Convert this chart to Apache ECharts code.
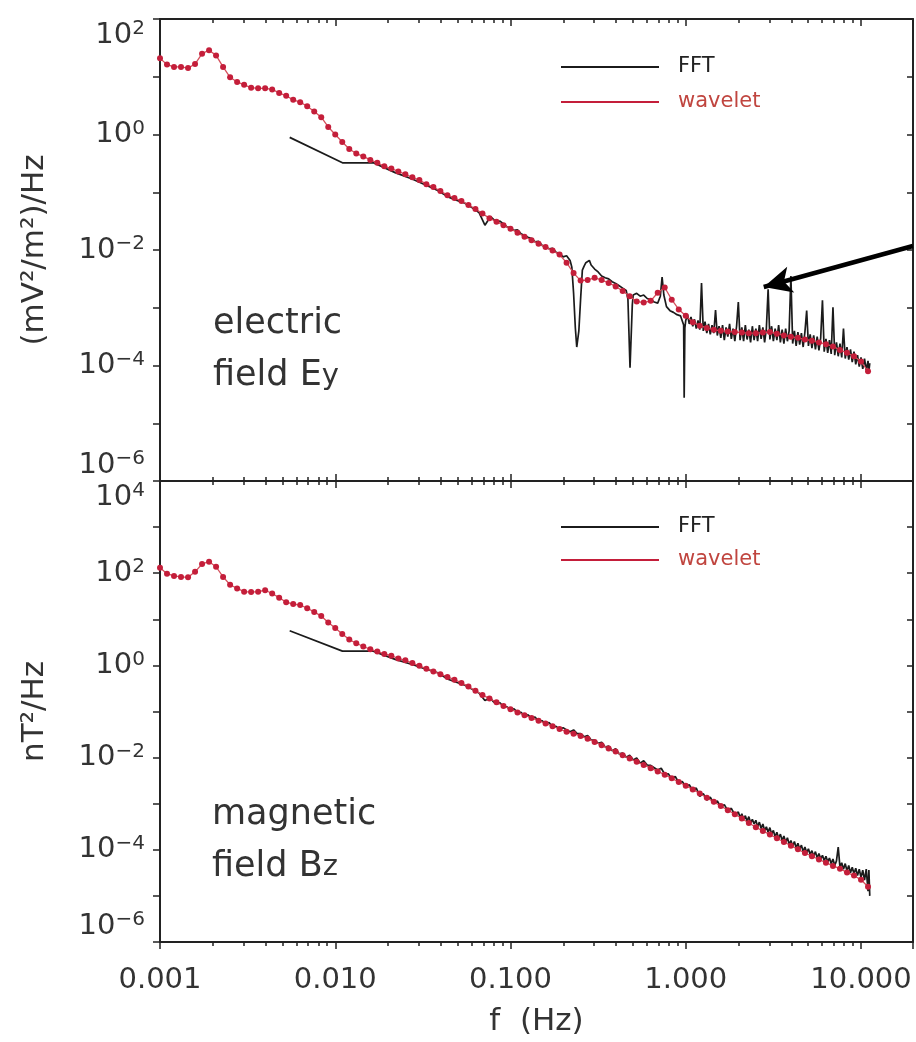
<!DOCTYPE html>
<html>
<head>
<meta charset="utf-8">
<title>FFT vs wavelet spectra</title>
<script src="https://cdn.jsdelivr.net/npm/echarts@6/dist/echarts.min.js"></script>
<style>
  html, body { margin: 0; padding: 0; background: #fff; }
  #chart { width: 916px; height: 1042px; }
</style>
</head>
<body>
<div id="chart"></div>
<script>
// all values are log10 (x = log10 f[Hz], y = log10 PSD)

// wavelet scales: one every 0.04 decade starting at 0.001 Hz
const waveStartLog = -3;
const waveStep = 0.04;

// electric field Ey, wavelet PSD
const waveTop = [
  1.32, 1.21, 1.17, 1.17, 1.15, 1.22, 1.40, 1.46, 1.37, 1.17,
  0.99, 0.91, 0.86, 0.81, 0.80, 0.80, 0.78, 0.72, 0.67, 0.60,
  0.56, 0.49, 0.40, 0.30, 0.13, 0.00, -0.13, -0.25, -0.33, -0.38,
  -0.44, -0.49, -0.55, -0.59, -0.64, -0.69, -0.74, -0.79, -0.86, -0.91,
  -0.98, -1.05, -1.10, -1.15, -1.22, -1.29, -1.37, -1.45, -1.51, -1.57,
  -1.63, -1.70, -1.77, -1.83, -1.89, -1.95, -2.01, -2.08, -2.22, -2.40,
  -2.53, -2.52, -2.48, -2.52, -2.57, -2.63, -2.71, -2.80, -2.89, -2.91,
  -2.88, -2.74, -2.65, -2.86, -3.03, -3.14, -3.25, -3.31, -3.35, -3.38,
  -3.40, -3.41, -3.42, -3.43, -3.44, -3.44, -3.43, -3.42, -3.45, -3.48,
  -3.50, -3.52, -3.55, -3.57, -3.60, -3.63, -3.67, -3.73, -3.78, -3.84,
  -3.93, -4.10
];

// magnetic field Bz, wavelet PSD
const waveBottom = [
  2.12, 1.99, 1.94, 1.92, 1.91, 2.03, 2.20, 2.25, 2.14, 1.92,
  1.75, 1.67, 1.60, 1.59, 1.60, 1.63, 1.56, 1.47, 1.37, 1.33,
  1.31, 1.24, 1.16, 1.07, 0.93, 0.81, 0.68, 0.56, 0.48, 0.41,
  0.35, 0.30, 0.25, 0.21, 0.15, 0.11, 0.05, -0.01, -0.07, -0.13,
  -0.19, -0.25, -0.31, -0.38, -0.46, -0.55, -0.64, -0.72, -0.80, -0.88,
  -0.95, -1.02, -1.08, -1.14, -1.20, -1.26, -1.32, -1.38, -1.44, -1.48,
  -1.53, -1.59, -1.66, -1.73, -1.80, -1.87, -1.95, -2.02, -2.09, -2.16,
  -2.23, -2.30, -2.37, -2.45, -2.53, -2.61, -2.69, -2.78, -2.87, -2.96,
  -3.05, -3.14, -3.23, -3.32, -3.42, -3.51, -3.59, -3.67, -3.75, -3.83,
  -3.91, -3.99, -4.07, -4.14, -4.21, -4.28, -4.35, -4.41, -4.49, -4.56,
  -4.65, -4.80
];

// electric field Ey, FFT PSD [log10 f, log10 P]
const fftTop = [
  [-2.26, -0.05], [-1.959, -0.49], [-1.783, -0.49], [-1.658, -0.66], [-1.561, -0.77],
  [-1.481, -0.88], [-1.415, -0.97], [-1.357, -1.08], [-1.305, -1.14], [-1.260, -1.19],
  [-1.218, -1.27], [-1.180, -1.35], [-1.146, -1.57], [-1.114, -1.42],
  [-1.10, -1.46], [-1.08, -1.52], [-1.06, -1.50], [-1.04, -1.55], [-1.02, -1.60],
  [-1.00, -1.62], [-0.98, -1.66], [-0.96, -1.65], [-0.94, -1.72], [-0.92, -1.75],
  [-0.90, -1.78], [-0.88, -1.80], [-0.86, -1.86], [-0.84, -1.85], [-0.82, -1.92],
  [-0.80, -1.94], [-0.78, -1.98], [-0.76, -1.97], [-0.74, -2.04], [-0.72, -2.06],
  [-0.70, -2.12], [-0.68, -2.10], [-0.66, -2.18], [-0.65, -2.30], [-0.64, -2.75],
  [-0.63, -3.35], [-0.622, -3.68], [-0.61, -3.40], [-0.60, -2.85], [-0.59, -2.35],
  [-0.58, -2.28], [-0.57, -2.22], [-0.56, -2.20], [-0.55, -2.18], [-0.54, -2.26],
  [-0.52, -2.33], [-0.50, -2.38], [-0.48, -2.45], [-0.46, -2.48], [-0.44, -2.50],
  [-0.42, -2.55], [-0.40, -2.58], [-0.38, -2.62], [-0.36, -2.66], [-0.34, -2.70],
  [-0.33, -2.85], [-0.318, -4.04], [-0.305, -2.95], [-0.30, -2.78], [-0.28, -2.75],
  [-0.26, -2.80], [-0.24, -2.78], [-0.22, -2.84], [-0.20, -2.86], [-0.18, -2.90],
  [-0.16, -2.92], [-0.145, -2.80], [-0.135, -2.47], [-0.125, -2.78], [-0.11, -2.98],
  [-0.09, -3.05], [-0.07, -3.08], [-0.05, -3.12], [-0.03, -3.14], [-0.02, -3.15],
  [-0.012, -3.30], [-0.009, -4.56], [-0.005, -3.35],
  [0.00, -3.22], [0.01, -3.12], [0.02, -3.28], [0.03, -3.16], [0.04, -3.32],
  [0.05, -3.20], [0.06, -3.36], [0.07, -3.22], [0.08, -3.38], [0.09, -2.57],
  [0.10, -3.40], [0.11, -3.24], [0.12, -3.44], [0.13, -3.28], [0.14, -3.46],
  [0.15, -3.30], [0.16, -3.44], [0.17, -3.04], [0.18, -3.48], [0.19, -3.32],
  [0.20, -3.52], [0.21, -3.30], [0.22, -3.56], [0.23, -3.34], [0.24, -3.50],
  [0.25, -3.28], [0.26, -3.54], [0.27, -3.36], [0.28, -3.58], [0.29, -3.32],
  [0.30, -2.90], [0.31, -3.56], [0.32, -3.34], [0.33, -3.58], [0.34, -3.30],
  [0.35, -3.55], [0.36, -3.38], [0.37, -3.60], [0.38, -3.32], [0.39, -3.56],
  [0.40, -3.36], [0.41, -3.58], [0.42, -3.30], [0.43, -3.54], [0.44, -3.34],
  [0.45, -3.60], [0.46, -3.36], [0.47, -2.68], [0.48, -3.55], [0.49, -3.32],
  [0.50, -3.58], [0.51, -3.36], [0.52, -3.56], [0.53, -3.30], [0.54, -3.60],
  [0.55, -3.38], [0.56, -3.62], [0.57, -3.36], [0.58, -3.58], [0.59, -3.40],
  [0.60, -2.45], [0.61, -3.62], [0.62, -3.40], [0.63, -3.66], [0.64, -3.42],
  [0.65, -3.64], [0.66, -3.44], [0.67, -3.68], [0.68, -3.42], [0.69, -3.05],
  [0.70, -3.66], [0.71, -3.46], [0.72, -3.70], [0.73, -3.48], [0.74, -3.72],
  [0.75, -3.50], [0.76, -3.74], [0.77, -3.52], [0.78, -2.87], [0.79, -3.76],
  [0.80, -3.54], [0.81, -3.78], [0.82, -3.56], [0.83, -3.80], [0.84, -2.99],
  [0.85, -3.82], [0.86, -3.60], [0.87, -3.84], [0.88, -3.62], [0.89, -3.86],
  [0.90, -3.36], [0.91, -3.88], [0.92, -3.68], [0.93, -3.90], [0.94, -3.72],
  [0.95, -3.94], [0.96, -3.76], [0.97, -3.98], [0.98, -3.82], [0.99, -4.02],
  [1.00, -3.86], [1.01, -4.06], [1.02, -3.88], [1.03, -4.08], [1.04, -3.92],
  [1.045, -4.10], [1.05, -3.96]
];

// magnetic field Bz, FFT PSD [log10 f, log10 P]
const fftBottom = [
  [-2.26, 0.75], [-1.959, 0.31], [-1.783, 0.31], [-1.658, 0.13], [-1.561, 0.02],
  [-1.481, -0.08], [-1.415, -0.16], [-1.357, -0.30], [-1.305, -0.37], [-1.260, -0.43],
  [-1.218, -0.52], [-1.180, -0.60], [-1.146, -0.76], [-1.114, -0.70],
  [-1.10, -0.78], [-1.08, -0.84], [-1.06, -0.81], [-1.04, -0.90], [-1.02, -0.90],
  [-1.00, -0.97], [-0.98, -0.94], [-0.96, -1.02], [-0.94, -1.02], [-0.92, -1.10],
  [-0.90, -1.07], [-0.88, -1.15], [-0.86, -1.12], [-0.84, -1.21], [-0.82, -1.20],
  [-0.80, -1.27], [-0.78, -1.24], [-0.76, -1.33], [-0.74, -1.32], [-0.72, -1.39],
  [-0.70, -1.35], [-0.68, -1.40], [-0.66, -1.44], [-0.64, -1.40], [-0.62, -1.48],
  [-0.60, -1.48], [-0.58, -1.55], [-0.56, -1.52], [-0.54, -1.62], [-0.52, -1.62],
  [-0.50, -1.69], [-0.48, -1.67], [-0.46, -1.77], [-0.44, -1.75], [-0.42, -1.85],
  [-0.40, -1.81], [-0.38, -1.92], [-0.36, -1.90], [-0.34, -1.99], [-0.32, -1.95],
  [-0.30, -2.05], [-0.28, -2.01], [-0.26, -2.12], [-0.24, -2.07], [-0.22, -2.16],
  [-0.20, -2.17], [-0.18, -2.22], [-0.16, -2.27], [-0.14, -2.23], [-0.12, -2.36],
  [-0.10, -2.35], [-0.08, -2.46], [-0.06, -2.41], [-0.04, -2.54], [-0.02, -2.52],
  [0.00, -2.62], [0.02, -2.59], [0.04, -2.72], [0.06, -2.66], [0.08, -2.84],
  [0.10, -2.78], [0.12, -2.92], [0.14, -2.86], [0.16, -3.00], [0.18, -2.94],
  [0.20, -3.07], [0.22, -3.02], [0.24, -3.15], [0.26, -3.10], [0.28, -3.24],
  [0.30, -3.18], [0.31, -3.30], [0.32, -3.22], [0.33, -3.34], [0.34, -3.26],
  [0.35, -3.38], [0.36, -3.28], [0.37, -3.42], [0.38, -3.34], [0.39, -3.44],
  [0.40, -3.36], [0.41, -3.50], [0.42, -3.40], [0.43, -3.54], [0.44, -3.44],
  [0.45, -3.58], [0.46, -3.50], [0.47, -3.62], [0.48, -3.52], [0.49, -3.66],
  [0.50, -3.58], [0.51, -3.72], [0.52, -3.62], [0.53, -3.76], [0.54, -3.66],
  [0.55, -3.80], [0.56, -3.70], [0.57, -3.84], [0.58, -3.74], [0.59, -3.88],
  [0.60, -3.80], [0.61, -3.92], [0.62, -3.82], [0.63, -3.96], [0.64, -3.86],
  [0.65, -3.99], [0.66, -3.90], [0.67, -4.04], [0.68, -3.94], [0.69, -4.06],
  [0.70, -3.98], [0.71, -4.10], [0.72, -4.02], [0.73, -4.14], [0.74, -4.04],
  [0.75, -4.18], [0.76, -4.08], [0.77, -4.20], [0.78, -4.12], [0.79, -4.24],
  [0.80, -4.14], [0.81, -4.26], [0.82, -4.18], [0.83, -4.30], [0.84, -4.20],
  [0.85, -4.34], [0.86, -4.24], [0.87, -3.94], [0.88, -4.38], [0.89, -4.28],
  [0.90, -4.42], [0.91, -4.30], [0.92, -4.46], [0.93, -4.34], [0.94, -4.50],
  [0.95, -4.38], [0.96, -4.52], [0.97, -4.40], [0.98, -4.56], [0.99, -4.42],
  [1.00, -4.60], [1.01, -4.44], [1.02, -4.66], [1.03, -4.42], [1.04, -4.90],
  [1.045, -4.44], [1.05, -5.00]
];

const xTickLabels = ['0.001', '0.010', '0.100', '1.000', '10.000'];
const xRange = [-3, 1.2967];
const yTopRange = [-6, 2];
const yBottomRange = [-6, 4];

// arrow pointing at the spectral lines (log10 units of the top panel)
const arrowFrom = [1.296, -1.93];
const arrowTo = [0.445, -2.641];

const font = 'DejaVu Sans';
const ink = '#222';
const labelInk = '#333';
const fftColor = '#1b1b1b';
const dotColor = '#c41e3a';
const waveLineColor = '#d5505c';

var chart = echarts.init(document.getElementById('chart'));

function toPairs(arr) {
  return arr.map(function (v, i) { return [waveStartLog + i * waveStep, v]; });
}

// minor ticks at 2..9 of each decade
var minorX = [];
for (var d = -3; d <= 1; d++) {
  for (var k = 2; k <= 9; k++) {
    var v = d + Math.log10(k);
    if (v < xRange[1]) minorX.push(v);
  }
}

function powLabel(value) {
  var e = Math.round(value);
  if (Math.abs(value - e) > 1e-6 || e % 2 !== 0) return '';
  return '10{s|' + (e < 0 ? '\u2212' + (-e) : e) + '}';
}

function xLabel(value) {
  var e = Math.round(value);
  if (Math.abs(value - e) > 1e-6) return '';
  return xTickLabels[e + 3] || '';
}

var axisLine = { show: true, onZero: false, lineStyle: { color: ink, width: 2 } };
var tickStyle = { color: ink, width: 1.5 };

function xAxisDef(grid, pos, tickInside, extra) {
  return Object.assign({
    type: 'value', gridIndex: grid, position: pos,
    min: xRange[0], max: xRange[1], interval: 1,
    axisLine: axisLine,
    splitLine: { show: false },
    axisLabel: { show: false },
    axisTick: { show: true, inside: tickInside, length: 7, lineStyle: tickStyle }
  }, extra || {});
}

function minorXDef(grid, pos, tickInside) {
  return {
    type: 'value', gridIndex: grid, position: pos,
    min: xRange[0], max: xRange[1],
    axisLine: { show: false, onZero: false },
    splitLine: { show: false },
    axisLabel: { show: false },
    axisTick: { show: true, inside: tickInside, length: 4, customValues: minorX, lineStyle: tickStyle }
  };
}

var yLabel = {
  show: true, formatter: powLabel, margin: 15,
  fontSize: 29, fontFamily: font, color: labelInk, lineHeight: 32,
  verticalAlignMaxLabel: 'top', verticalAlignMinLabel: 'bottom',
  rich: { s: { fontSize: 20, fontFamily: font, color: labelInk, verticalAlign: 'top', lineHeight: 20 } }
};

function yAxisDef(grid, pos, range, extra) {
  return Object.assign({
    type: 'value', gridIndex: grid, position: pos,
    min: range[0], max: range[1], interval: 1,
    axisLine: axisLine,
    splitLine: { show: false },
    axisLabel: { show: false },
    axisTick: { show: true, inside: pos === 'right', length: pos === 'right' ? 6 : 7, lineStyle: tickStyle }
  }, extra || {});
}

var nameStyle = { fontSize: 31, fontFamily: font, color: labelInk };

function legendDef(top, gap) {
  return {
    orient: 'vertical', left: 561, top: top, padding: 0,
    itemWidth: 98, itemHeight: 2, itemGap: gap, icon: 'rect',
    selectedMode: false,
    textStyle: { fontSize: 21, fontFamily: font, lineHeight: 24, padding: [0, 0, 0, 14] },
    data: [
      { name: 'FFT', textStyle: { color: '#222' } },
      { name: 'wavelet', textStyle: { color: '#c0453f' } }
    ]
  };
}

var textRich = { s: { fontSize: 29, verticalAlign: 'middle', fill: labelInk, fontFamily: font } };

var option = {
  animation: false,
  backgroundColor: '#fff',
  grid: [
    { left: 160, top: 19, width: 753, height: 462, outerBoundsMode: 'none' },
    { left: 160, top: 481, width: 753, height: 461, outerBoundsMode: 'none' }
  ],
  legend: [legendDef(55, 11), legendDef(515, 9)],
  xAxis: [
    xAxisDef(0, 'bottom', true),
    xAxisDef(0, 'top', true),
    xAxisDef(1, 'bottom', false, {
      axisLabel: { show: true, formatter: xLabel, margin: 24, fontSize: 29, fontFamily: font, color: labelInk },
      name: 'f  (Hz)', nameLocation: 'middle', nameGap: 64, nameTextStyle: nameStyle
    }),
    xAxisDef(1, 'top', true),
    minorXDef(0, 'bottom', true),
    minorXDef(0, 'top', true),
    minorXDef(1, 'bottom', false),
    minorXDef(1, 'top', true)
  ],
  yAxis: [
    yAxisDef(0, 'left', yTopRange, {
      axisLabel: yLabel,
      name: '(mV\u00b2/m\u00b2)/Hz', nameLocation: 'middle', nameGap: 110, nameTextStyle: nameStyle
    }),
    yAxisDef(0, 'right', yTopRange),
    yAxisDef(1, 'left', yBottomRange, {
      axisLabel: yLabel,
      name: 'nT\u00b2/Hz', nameLocation: 'middle', nameGap: 110, nameTextStyle: nameStyle
    }),
    yAxisDef(1, 'right', yBottomRange)
  ],
  series: [
    {
      name: 'FFT', type: 'line', xAxisIndex: 0, yAxisIndex: 0,
      data: fftTop, showSymbol: false, clip: false,
      itemStyle: { color: fftColor },
      lineStyle: { color: fftColor, width: 1.7 },
      emphasis: { disabled: true },
      markLine: {
        silent: true,
        symbol: ['none', 'arrow'],
        label: { show: false },
        lineStyle: { color: '#000', width: 4.5, type: 'solid' },
        emphasis: { disabled: true },
        data: [[
          { coord: arrowFrom, symbol: 'none' },
          { coord: arrowTo, symbol: 'arrow', symbolSize: [20, 28] }
        ]]
      }
    },
    {
      name: 'wavelet', type: 'line', xAxisIndex: 0, yAxisIndex: 0,
      data: toPairs(waveTop), symbol: 'circle', symbolSize: 6,
      itemStyle: { color: dotColor },
      lineStyle: { color: waveLineColor, width: 1.3 },
      emphasis: { disabled: true }
    },
    {
      name: 'FFT', type: 'line', xAxisIndex: 2, yAxisIndex: 2,
      data: fftBottom, showSymbol: false,
      itemStyle: { color: fftColor },
      lineStyle: { color: fftColor, width: 1.7 },
      emphasis: { disabled: true }
    },
    {
      name: 'wavelet', type: 'line', xAxisIndex: 2, yAxisIndex: 2,
      data: toPairs(waveBottom), symbol: 'circle', symbolSize: 6,
      itemStyle: { color: dotColor },
      lineStyle: { color: waveLineColor, width: 1.3 },
      emphasis: { disabled: true }
    }
  ],
  graphic: [
    {
      type: 'text', left: 213, top: 298, silent: true,
      style: { text: 'electric\nfield E{s|y}', fill: labelInk, fontSize: 35, fontFamily: font, lineHeight: 52, rich: textRich }
    },
    {
      type: 'text', left: 212, top: 789, silent: true,
      style: { text: 'magnetic\nfield B{s|z}', fill: labelInk, fontSize: 35, fontFamily: font, lineHeight: 52, rich: textRich }
    }
  ]
};

chart.setOption(option);
</script>
</body>
</html>
